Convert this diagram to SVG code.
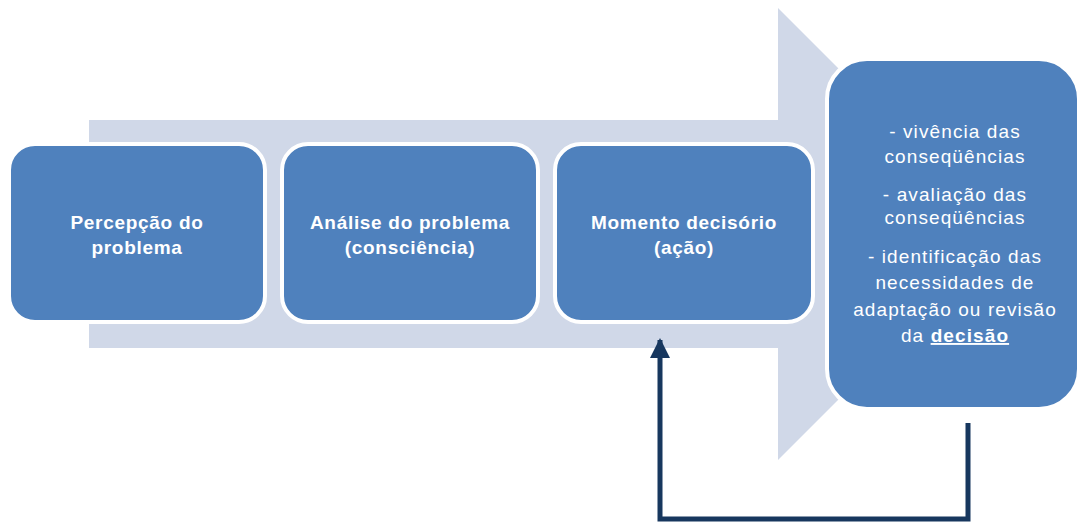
<svg xmlns="http://www.w3.org/2000/svg" width="1079" height="522" viewBox="0 0 1079 522">
<style>
.box{fill:#4F81BD;stroke:#FFFFFF;stroke-width:4}
.t{font-family:"Liberation Sans",Arial,sans-serif;fill:#FFFFFF;text-anchor:middle}
.b{font-weight:bold;font-size:19px;letter-spacing:0.7px}
.n{font-size:19px;letter-spacing:1.1px}
</style>
<defs>
<marker id="ah" viewBox="0 0 10 10" refX="9" refY="5" markerWidth="4" markerHeight="4" orient="auto" markerUnits="strokeWidth">
<path d="M0,0 L10,5 L0,10 Z" fill="#17375E"/>
</marker>
</defs>
<rect width="1079" height="522" fill="#FFFFFF"/>
<g id="bigarrow">
<path d="M89,120 L778,120 L778,8 L1004,234 L778,460 L778,348 L89,348 Z" fill="#D0D8E8"/>
</g>
<g id="connectors">
<polyline points="968,423 968,519 660,519 660,340" fill="none" stroke="#17375E" stroke-width="5" marker-end="url(#ah)"/>
</g>
<g id="n1">
<rect class="box" x="9" y="144" width="256" height="178" rx="26"/>
<text class="t b" x="137" y="229">Percepção do</text>
<text class="t b" x="137" y="254">problema</text>
</g>
<g id="n2">
<rect class="box" x="282" y="144" width="256" height="178" rx="26"/>
<text class="t b" x="410" y="229">Análise do problema</text>
<text class="t b" x="410" y="254">(consciência)</text>
</g>
<g id="n3">
<rect class="box" x="555" y="144" width="258" height="178" rx="26"/>
<text class="t b" x="684" y="229">Momento decisório</text>
<text class="t b" x="684" y="254">(ação)</text>
</g>
<g id="n4">
<rect class="box" x="827" y="59" width="252" height="350" rx="40"/>
<text class="t n" x="955" y="138">- vivência das</text>
<text class="t n" x="955" y="163">conseqüências</text>
<text class="t n" x="955" y="201">- avaliação das</text>
<text class="t n" x="955" y="224">conseqüências</text>
<text class="t n" x="955" y="263">- identificação das</text>
<text class="t n" x="955" y="289">necessidades de</text>
<text class="t n" x="955" y="316">adaptação ou revisão</text>
<text class="t n" x="955" y="342">da <tspan font-weight="bold" text-decoration="underline">decisão</tspan></text>
</g>
</svg>
